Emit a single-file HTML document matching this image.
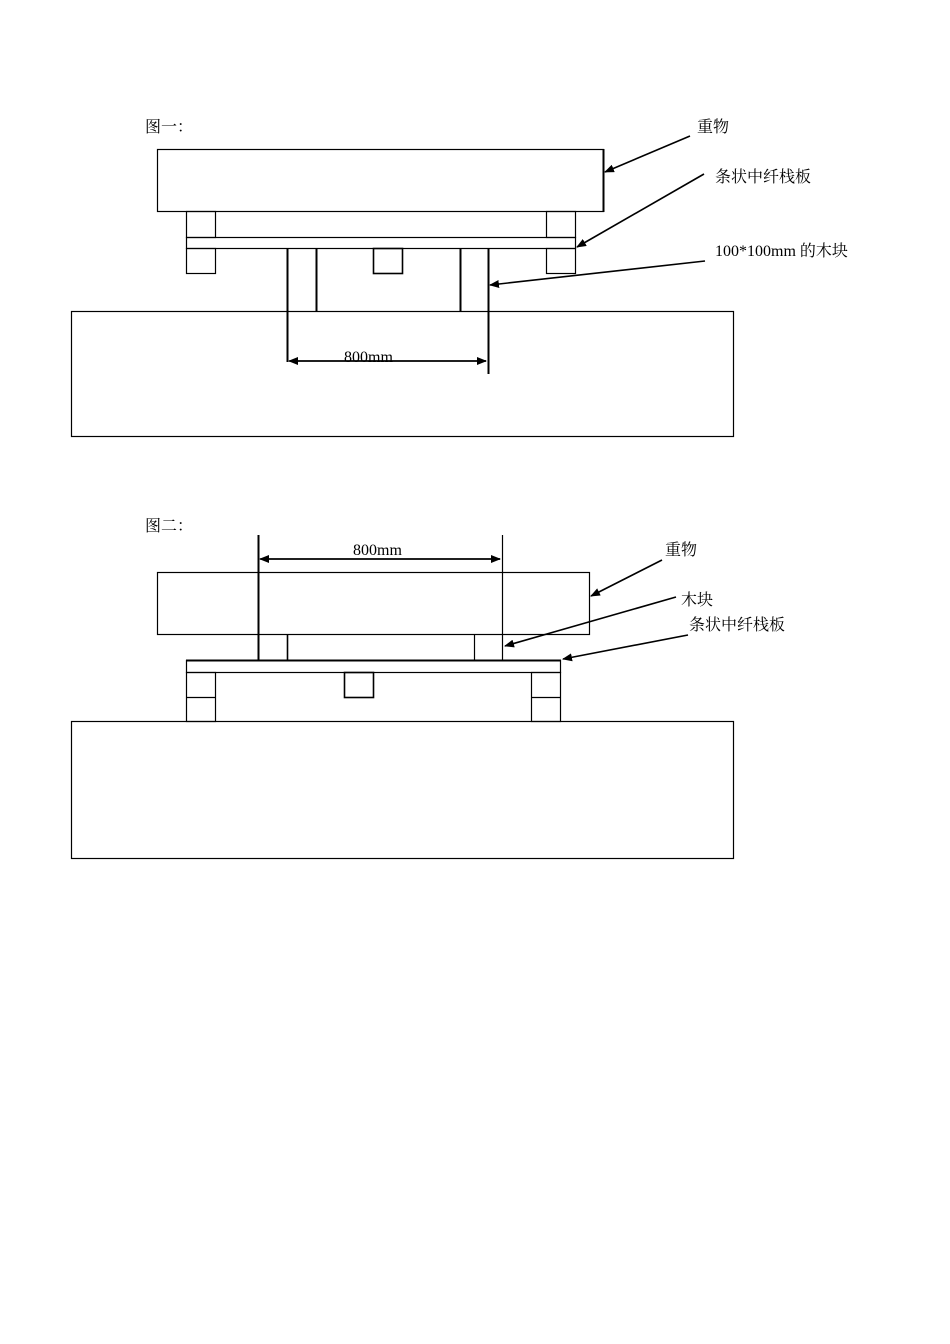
<!DOCTYPE html>
<html><head><meta charset="utf-8"><style>
html,body{margin:0;padding:0;background:#fff;width:950px;height:1344px;overflow:hidden}
svg text{font-family:"Liberation Serif","Noto Serif CJK SC","Noto Sans CJK SC",serif;font-size:16px;fill:#000}
</style></head><body>
<svg width="950" height="1344" viewBox="0 0 950 1344" xmlns="http://www.w3.org/2000/svg">
<defs>
<marker id="a" markerWidth="10" markerHeight="8" refX="9" refY="4" orient="auto" markerUnits="userSpaceOnUse"><path d="M0,0 L10,4 L0,8 Z" fill="#000"/></marker>
</defs>
<g fill="none" stroke="#000" stroke-width="1.2">
<rect x="157.5" y="149.5" width="446" height="62"/>
<line x1="603.5" y1="149" x2="603.5" y2="212" stroke-width="2"/>
<rect x="186.5" y="211.5" width="29" height="26"/>
<rect x="546.5" y="211.5" width="29" height="26"/>
<rect x="186.5" y="237.5" width="389" height="11"/>
<rect x="186.5" y="248.5" width="29" height="25"/>
<rect x="546.5" y="248.5" width="29" height="25"/>
<rect x="373.5" y="248.5" width="29" height="25" stroke-width="1.6"/>
<line x1="287.5" y1="248" x2="287.5" y2="362" stroke-width="2"/>
<line x1="316.5" y1="248" x2="316.5" y2="311" stroke-width="2"/>
<line x1="460.5" y1="248" x2="460.5" y2="311" stroke-width="2"/>
<line x1="488.5" y1="248" x2="488.5" y2="374" stroke-width="2"/>
<rect x="71.5" y="311.5" width="662" height="125"/>
<line x1="290" y1="361" x2="486" y2="361" stroke-width="1.6" marker-end="url(#a)"/>
<line x1="486" y1="361" x2="289" y2="361" stroke-width="1.6" marker-end="url(#a)"/>
<line x1="690" y1="136" x2="605" y2="172" stroke-width="1.6" marker-end="url(#a)"/>
<line x1="704" y1="174" x2="577" y2="247" stroke-width="1.6" marker-end="url(#a)"/>
<line x1="705" y1="261" x2="490" y2="285" stroke-width="1.6" marker-end="url(#a)"/>
<rect x="157.5" y="572.5" width="432" height="62"/>
<line x1="258.5" y1="535" x2="258.5" y2="660" stroke-width="2"/>
<line x1="502.5" y1="535" x2="502.5" y2="660"/>
<line x1="287.5" y1="634" x2="287.5" y2="660" stroke-width="1.6"/>
<line x1="474.5" y1="634" x2="474.5" y2="660"/>
<line x1="261" y1="559" x2="500" y2="559" stroke-width="1.6" marker-end="url(#a)"/>
<line x1="500" y1="559" x2="260" y2="559" stroke-width="1.6" marker-end="url(#a)"/>
<rect x="186.5" y="660.5" width="374" height="12"/>
<line x1="186" y1="660.5" x2="561" y2="660.5" stroke-width="2"/>
<rect x="186.5" y="672.5" width="29" height="49"/>
<line x1="186" y1="697.5" x2="215" y2="697.5"/>
<rect x="531.5" y="672.5" width="29" height="49"/>
<line x1="531" y1="697.5" x2="560" y2="697.5"/>
<rect x="344.5" y="672.5" width="29" height="25" stroke-width="1.6"/>
<rect x="71.5" y="721.5" width="662" height="137"/>
<line x1="662" y1="560" x2="591" y2="596" stroke-width="1.6" marker-end="url(#a)"/>
<line x1="676" y1="597" x2="505" y2="646" stroke-width="1.6" marker-end="url(#a)"/>
<line x1="688" y1="635" x2="563" y2="659" stroke-width="1.6" marker-end="url(#a)"/>
</g>
<text x="145" y="132">图一：</text>
<text x="697" y="132">重物</text>
<text x="715" y="182">条状中纤栈板</text>
<text x="715" y="256">100*100mm 的木块</text>
<text x="344" y="362">800mm</text>
<text x="145" y="531">图二：</text>
<text x="353" y="555">800mm</text>
<text x="665" y="555">重物</text>
<text x="681" y="605">木块</text>
<text x="689" y="630">条状中纤栈板</text>
</svg>
</body></html>
